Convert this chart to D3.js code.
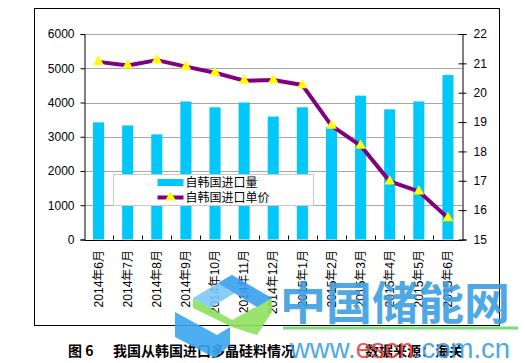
<!DOCTYPE html>
<html>
<head>
<meta charset="utf-8">
<script src="https://cdn.jsdelivr.net/npm/d3@7"></script>
<style>
  body { margin: 0; background: #fff; }
  svg { display: block; }
</style>
</head>
<body>
<div id="chart"></div>
<script>
const months = ['2014年6月','2014年7月','2014年8月','2014年9月','2014年10月','2014年11月','2014年12月',
  '2015年1月','2015年2月','2015年3月','2015年4月','2015年5月','2015年6月'];
const volume = [3420, 3330, 3070, 4030, 3860, 4000, 3590, 3860, 3280, 4200, 3800, 4030, 4800];
const price = [21.05, 20.93, 21.11, 20.89, 20.68, 20.41, 20.43, 20.26, 18.88, 18.2, 16.98, 16.64, 15.73];
const leftTicks = [0, 1000, 2000, 3000, 4000, 5000, 6000];
const rightTicks = [15, 16, 17, 18, 19, 20, 21, 22];
const legendLabels = ['自韩国进口量', '自韩国进口单价'];

const width = 525, height = 363;
const plot = { left: 84, right: 462.5, top: 34, bottom: 239.5 };
const tickFont = '"Liberation Sans", Arial, sans-serif';
const cjkFont = '"Noto Sans CJK SC", sans-serif';

const svg = d3.select('#chart').append('svg')
  .attr('width', width)
  .attr('height', height);

// outer frame
svg.append('rect')
  .attr('x', 34.5).attr('y', 8.5)
  .attr('width', 465).attr('height', 317)
  .attr('fill', 'none').attr('stroke', '#000').attr('stroke-width', 1);

const x = d3.scaleBand().domain(months).range([plot.left, plot.right]).padding(0);
const yL = d3.scaleLinear().domain([0, 6000]).range([plot.bottom, plot.top]);
const yR = d3.scaleLinear().domain([15, 22]).range([plot.bottom, plot.top]);

// gridlines
svg.append('g')
  .selectAll('line')
  .data(leftTicks.slice(1))
  .enter().append('line')
  .attr('x1', plot.left).attr('x2', plot.right)
  .attr('y1', d => Math.round(yL(d)) + 0.5).attr('y2', d => Math.round(yL(d)) + 0.5)
  .attr('stroke', '#a6a6a6').attr('stroke-width', 1);

// bars
const barW = x.bandwidth() * 0.38;
svg.append('g')
  .selectAll('rect')
  .data(volume)
  .enter().append('rect')
  .attr('x', (d, i) => x(months[i]) + x.bandwidth() / 2 - barW / 2)
  .attr('y', d => yL(d))
  .attr('width', barW)
  .attr('height', d => plot.bottom - yL(d))
  .attr('fill', '#00c8fa');

// left axis
const gL = svg.append('g')
  .attr('transform', `translate(${plot.left + 0.5},0)`)
  .call(d3.axisLeft(yL).tickValues(leftTicks).tickFormat(d3.format('d')).tickSize(4).tickPadding(6));
gL.selectAll('text').attr('font-family', tickFont).attr('font-size', 12).attr('fill', '#000');
gL.select('.domain').attr('stroke', '#000');

// right axis
const gR = svg.append('g')
  .attr('transform', `translate(${plot.right},0)`)
  .call(d3.axisRight(yR).tickValues(rightTicks).tickFormat(d3.format('d')).tickSize(4).tickPadding(7));
gR.selectAll('text').attr('font-family', tickFont).attr('font-size', 12).attr('fill', '#000');
gR.select('.domain').attr('stroke', '#000');
gR.selectAll('.tick line').attr('x1', -4);

// bottom axis
const gB = svg.append('g')
  .attr('transform', `translate(0,${plot.bottom + 0.5})`)
  .call(d3.axisBottom(x).tickSize(0).tickSizeOuter(0).tickPadding(0));
gB.select('.domain').attr('stroke', '#000');
gB.selectAll('text')
  .attr('font-family', '"Liberation Sans", "Noto Sans CJK SC", sans-serif')
  .attr('font-size', 12)
  .attr('fill', '#000')
  .attr('text-anchor', 'end')
  .attr('transform', 'translate(0,10) rotate(-90)')
  .attr('dx', 0)
  .attr('dy', '0.35em');
svg.append('g')
  .selectAll('line')
  .data(months.slice(1))
  .enter().append('line')
  .attr('x1', d => Math.round(x(d)) + 0.5).attr('x2', d => Math.round(x(d)) + 0.5)
  .attr('y1', plot.bottom - 4).attr('y2', plot.bottom)
  .attr('stroke', '#000');

// price line
const line = d3.line()
  .x((d, i) => x(months[i]) + x.bandwidth() / 2)
  .y(d => yR(d));
svg.append('path')
  .datum(price)
  .attr('d', line)
  .attr('fill', 'none')
  .attr('stroke', '#800080')
  .attr('stroke-width', 4)
  .attr('stroke-linejoin', 'round');

const tri = d3.symbol().type(d3.symbolTriangle).size(50);
svg.append('g')
  .selectAll('path')
  .data(price)
  .enter().append('path')
  .attr('d', tri)
  .attr('transform', (d, i) => `translate(${x(months[i]) + x.bandwidth() / 2},${yR(d)})`)
  .attr('fill', '#ffff00');

// legend
const lg = svg.append('g').attr('transform', 'translate(113.5,174.5)');
lg.append('rect')
  .attr('width', 200).attr('height', 31)
  .attr('fill', '#fff').attr('stroke', '#c8c8c8');
lg.append('rect')
  .attr('x', 44).attr('y', 4.5).attr('width', 26).attr('height', 7)
  .attr('fill', '#00c8fa');
lg.append('line')
  .attr('x1', 44).attr('x2', 70).attr('y1', 23).attr('y2', 23)
  .attr('stroke', '#800080').attr('stroke-width', 4);
lg.append('path')
  .attr('d', tri)
  .attr('transform', 'translate(57,23)')
  .attr('fill', '#ffff00');
lg.selectAll('text.lab')
  .data(legendLabels)
  .enter().append('text')
  .attr('class', 'lab')
  .attr('x', 72)
  .attr('y', (d, i) => 8 + i * 15)
  .attr('dy', '0.38em')
  .attr('font-family', cjkFont)
  .attr('font-size', 12)
  .text(d => d);

// caption
const cap = svg.append('g')
  .attr('font-family', cjkFont)
  .attr('font-weight', 'bold')
  .attr('font-size', 14)
  .attr('fill', '#000');
cap.append('text').attr('x', 68).attr('y', 356).text('图 6');
cap.append('text').attr('x', 113).attr('y', 356).text('我国从韩国进口多晶硅料情况');
cap.append('text').attr('x', 365).attr('y', 356).text('数据来源：海关');

// watermark
const wm = svg.append('g').attr('opacity', 0.9);
wm.append('polygon').attr('points', '175,312 217,335 230,327 230,345 215,358 175,337').attr('fill', '#3aa6f0');
wm.append('polygon').attr('points', '193,298 232,320 272,298 272,312 257,335 232,327 193,308').attr('fill', '#8fe060');
wm.append('polygon').attr('points', '193,298 232,275 248,285 210,308').attr('fill', '#7cc8f8');
wm.append('polygon').attr('points', '232,275 272,298 257,307 218,283').attr('fill', '#3aa0ee');
wm.append('text')
  .attr('x', 280).attr('y', 320)
  .attr('font-family', cjkFont).attr('font-weight', 'bold')
  .attr('font-size', 45).attr('fill', '#3d9ee0')
  .attr('textLength', 230).attr('lengthAdjust', 'spacingAndGlyphs')
  .text('中国储能网');
wm.append('line')
  .attr('x1', 283).attr('x2', 518).attr('y1', 328).attr('y2', 328)
  .attr('stroke', '#6cd86c').attr('stroke-width', 3);
const url = wm.append('text')
  .attr('x', 290).attr('y', 358)
  .attr('font-family', '"Liberation Sans", Arial, sans-serif')
  .attr('font-size', 27.5);
url.append('tspan').attr('fill', '#3d9ee0').text('www.');
url.append('tspan').attr('fill', '#e84848').text('escn');
url.append('tspan').attr('fill', '#3d9ee0').text('.com.cn');
</script>
</body>
</html>
